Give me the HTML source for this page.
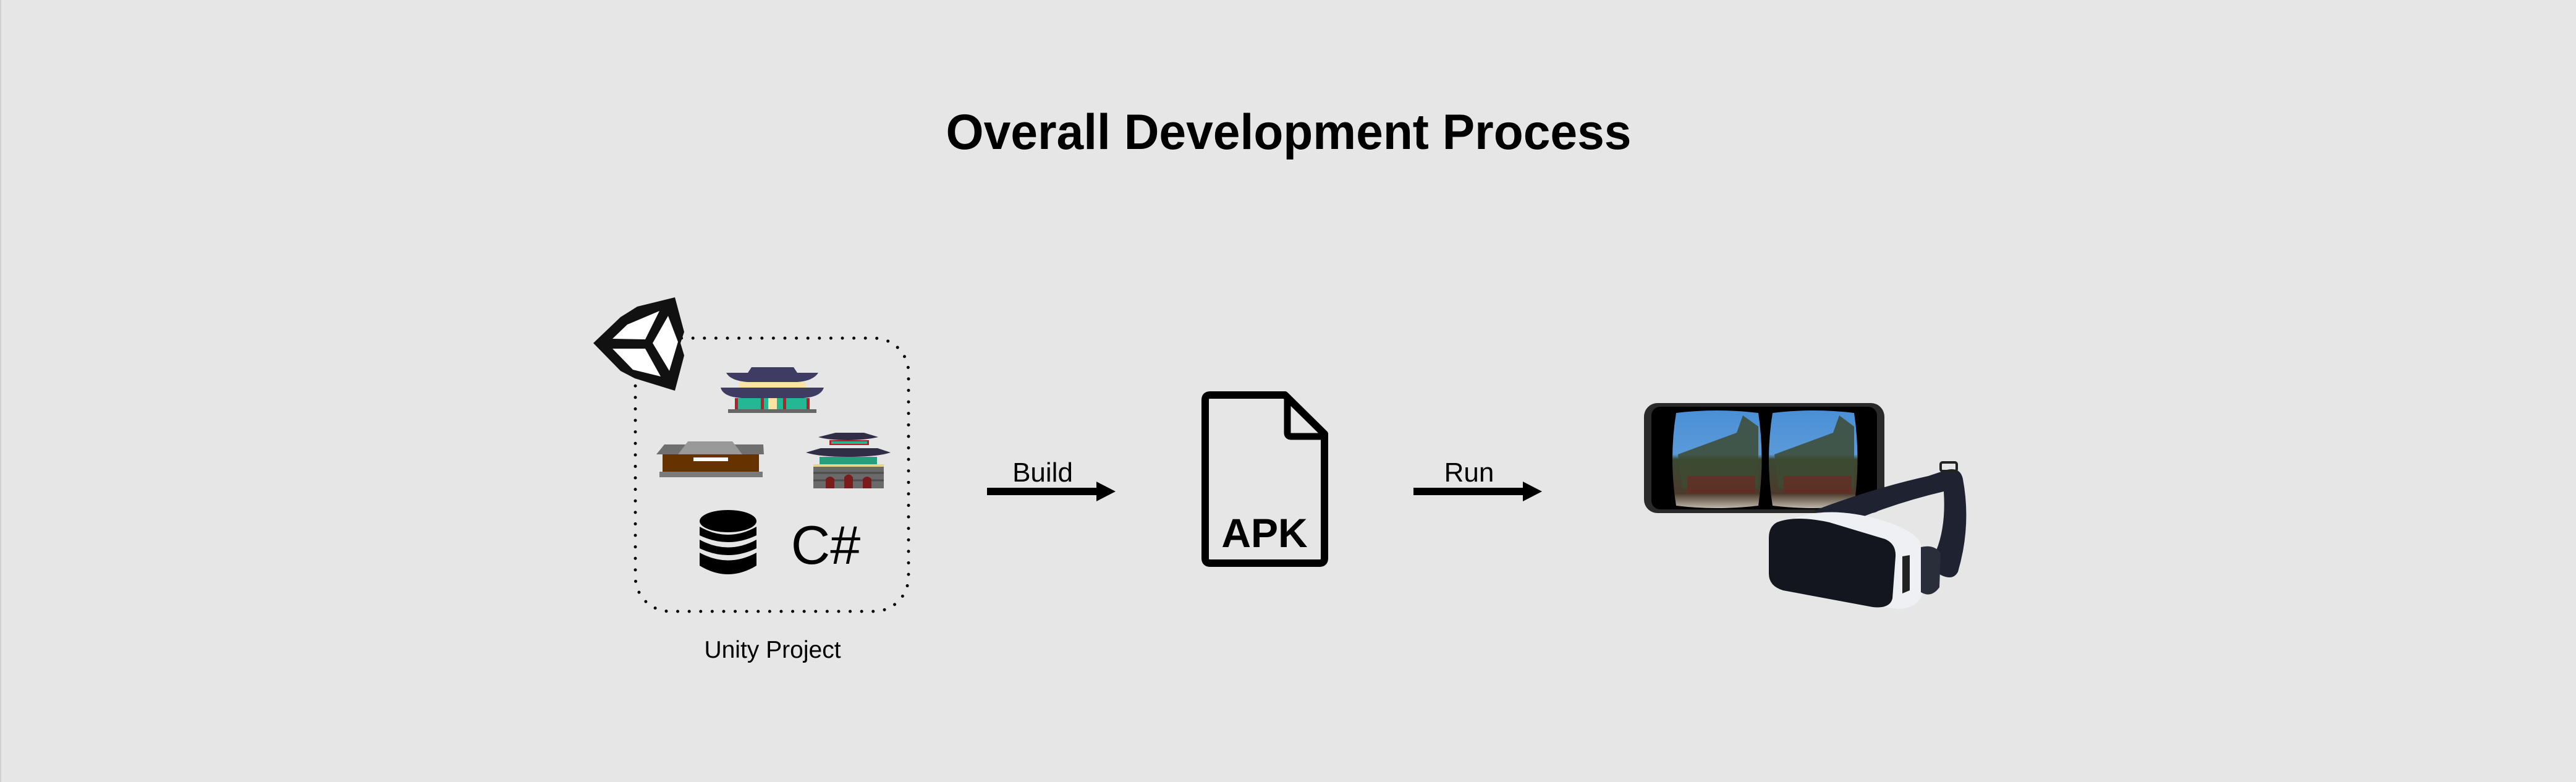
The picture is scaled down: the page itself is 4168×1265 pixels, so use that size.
<!DOCTYPE html>
<html><head><meta charset="utf-8"><style>
html,body{margin:0;padding:0;background:#e6e6e6;}
svg{display:block;}
</style></head><body>
<svg width="4168" height="1265" viewBox="0 0 4168 1265" xmlns="http://www.w3.org/2000/svg">
<rect width="4168" height="1265" fill="#e6e6e6"/>
<line x1="1" y1="0" x2="1" y2="1265" stroke="#d0d0d0" stroke-width="2"/>
<text x="2085" y="241" text-anchor="middle" font-family="Liberation Sans, sans-serif" font-weight="bold" font-size="81" textLength="1109" lengthAdjust="spacingAndGlyphs" fill="#000">Overall Development Process</text>

<rect x="1028" y="547" width="442" height="442" rx="56" fill="none" stroke="#000" stroke-width="5" stroke-linecap="round" stroke-dasharray="0 18.6"/>

<polygon points="960,555 1004,513 1031,496 1092,481 1107,537 1101,555 1107,575 1092,632 1027,612 1004,600" fill="#111"/>
<polygon points="991,548 1015,525 1067,503 1044,549" fill="#fff"/>
<polygon points="1056,555 1081,511 1097,553 1083,600" fill="#fff"/>
<polygon points="991,564 1044,564 1069,609 1024,598" fill="#fff"/>

<g>
<path d="M1175,603 L1210,603 L1216,594 L1284,594 L1290,603 L1324,603 Q1316,616 1290,618 L1210,618 Q1182,616 1175,603Z" fill="#3e3c63"/>
<rect x="1196" y="618" width="108" height="9" fill="#fbe3a6"/>
<path d="M1166,627 L1333,627 Q1328,642 1300,644 L1200,644 Q1170,642 1166,627Z" fill="#3e3c63"/>
<rect x="1189" y="644" width="120" height="18" fill="#23b793"/>
<rect x="1189" y="644" width="5" height="18" fill="#b62028"/>
<rect x="1231" y="644" width="5" height="18" fill="#b62028"/>
<rect x="1267" y="644" width="5" height="18" fill="#b62028"/>
<rect x="1305" y="644" width="5" height="18" fill="#b62028"/>
<rect x="1243" y="644" width="14" height="18" fill="#fbe3a6"/>
<rect x="1178" y="662" width="143" height="6" fill="#666"/>
</g>

<g>
<polygon points="1062,735 1075,719 1235,719 1236,735" fill="#6f6f6f"/>
<polygon points="1097,735 1113,714 1185,714 1201,735" fill="#999"/>
<rect x="1072" y="735" width="156" height="30" fill="#663300"/>
<rect x="1122" y="740" width="56" height="6" fill="#fff"/>
<rect x="1067" y="763" width="167" height="9" fill="#7a7a7a"/>
</g>

<g>
<path d="M1324,707 L1352,700 L1398,700 L1421,707 Q1400,712 1372,712 Q1340,712 1324,707Z" fill="#2f2e46"/>
<rect x="1342" y="712" width="64" height="8" fill="#b62028"/>
<rect x="1345" y="714" width="58" height="4" fill="#23b793"/>
<path d="M1304,732 L1328,725 L1420,725 L1441,732 Q1420,739 1372,739 Q1325,739 1304,732Z" fill="#2f2e46"/>
<rect x="1326" y="739" width="93" height="12" fill="#23a07f"/>
<rect x="1316" y="751" width="114" height="4" fill="#e8d58a"/>
<rect x="1316" y="755" width="114" height="35" fill="#6a6a6a"/>
<path d="M1316,765 h114 M1316,777 h114" stroke="#4d4d4d" stroke-width="3"/>
<path d="M1336,790 L1336,775 Q1343,767 1350,775 L1350,790Z" fill="#7a1c1c"/>
<path d="M1366,790 L1366,772 Q1373,763 1380,772 L1380,790Z" fill="#7a1c1c"/>
<path d="M1396,790 L1396,775 Q1403,767 1410,775 L1410,790Z" fill="#7a1c1c"/>
</g>

<g fill="#000">
<ellipse cx="1178" cy="843" rx="46" ry="18"/>
<path d="M1132,852 Q1178,878 1224,852 L1224,866 Q1178,888 1132,866Z"/>
<path d="M1132,873 Q1178,898 1224,873 L1224,887 Q1178,909 1132,887Z"/>
<path d="M1132,894 Q1178,919 1224,894 L1224,915 Q1178,943 1132,915Z"/>
</g>
<text x="1336" y="912" text-anchor="middle" font-family="Liberation Sans, sans-serif" font-size="88" fill="#000">C#</text>
<text x="1250" y="1064" text-anchor="middle" font-family="Liberation Sans, sans-serif" font-size="39" fill="#000">Unity Project</text>

<text x="1687" y="779" text-anchor="middle" font-family="Liberation Sans, sans-serif" font-size="44" fill="#000">Build</text>
<rect x="1597" y="789" width="180" height="12" fill="#000"/>
<polygon points="1774,779 1805,795 1774,811" fill="#000"/>

<path d="M1960,639 L2079,639 L2143,702 L2143,903 Q2143,911 2135,911 L1958,911 Q1950,911 1950,903 L1950,647 Q1950,639 1958,639Z" fill="none" stroke="#000" stroke-width="12" stroke-linejoin="round"/>
<path d="M2083,640 L2083,700 Q2083,706 2089,706 L2143,706" fill="none" stroke="#000" stroke-width="11"/>
<text x="2046" y="885" text-anchor="middle" font-family="Liberation Sans, sans-serif" font-weight="bold" font-size="66" fill="#000">APK</text>

<text x="2377" y="779" text-anchor="middle" font-family="Liberation Sans, sans-serif" font-size="44" fill="#000">Run</text>
<rect x="2287" y="789" width="180" height="12" fill="#000"/>
<polygon points="2464,779 2495,795 2464,811" fill="#000"/>

<rect x="2660" y="652" width="389" height="178" rx="22" fill="#2a2a2a"/>
<rect x="2672" y="658" width="365" height="166" rx="14" fill="#000"/>
<defs>
<linearGradient id="sky" x1="0" y1="0" x2="0" y2="1">
<stop offset="0" stop-color="#4a8fd6"/><stop offset="0.45" stop-color="#5a9ad8"/>
<stop offset="0.5" stop-color="#3b4a32"/><stop offset="0.85" stop-color="#4b3a2c"/><stop offset="1" stop-color="#bdb7aa"/>
</linearGradient>
</defs>
<path d="M2712,668 Q2778,660 2845,668 Q2856,742 2845,818 Q2778,826 2712,818 Q2700,742 2712,668Z" fill="url(#sky)"/>
<path d="M2868,668 Q2934,660 3000,668 Q3011,742 3000,818 Q2934,826 2868,818 Q2856,742 2868,668Z" fill="url(#sky)"/>
<polygon points="2715,735 2810,700 2820,672 2845,690 2845,790 2722,790" fill="#3d4a33" opacity="0.85"/>
<polygon points="2871,735 2966,700 2976,672 3000,690 3000,790 2878,790" fill="#3d4a33" opacity="0.85"/>
<rect x="2730" y="770" width="110" height="28" fill="#6b2a22" opacity="0.7"/>
<rect x="2886" y="770" width="110" height="28" fill="#6b2a22" opacity="0.7"/>

<!-- Headset -->
<path d="M2935,826 Q3030,790 3120,770 L3150,760 Q3172,755 3176,775 Q3190,850 3168,925 Q3160,940 3140,930 L3120,915 Q3150,870 3145,795 Q3060,815 2980,850Z" fill="#1f2230"/>
<rect x="3140" y="748" width="26" height="14" rx="3" fill="none" stroke="#222" stroke-width="4"/>
<path d="M2905,838 Q2960,818 3040,840 Q3100,858 3108,880 L3112,955 Q3105,985 3070,985 L2960,968 Z" fill="#eef0f4"/>
<path d="M2875,845 Q2905,833 2960,845 L3050,872 Q3068,880 3067,900 L3062,968 Q3058,985 3030,982 L2885,955 Q2862,948 2862,928 L2862,870 Q2862,852 2875,845Z" fill="#14161f"/>
<path d="M3078,900 L3090,898 L3090,955 L3078,960Z" fill="#222"/>
<path d="M3108,885 Q3130,880 3140,895 L3138,950 Q3125,968 3108,958Z" fill="#2a2d3a"/>
</svg>
</body></html>
